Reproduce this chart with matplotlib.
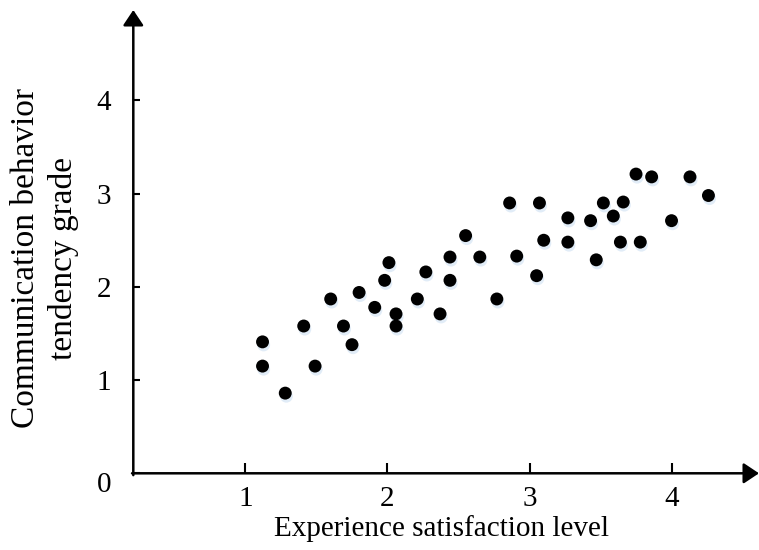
import matplotlib
matplotlib.use("Agg")
import matplotlib.pyplot as plt
import matplotlib.patheffects as pe
import matplotlib.transforms as mtransforms

plt.rcParams['font.family'] = ['Liberation Serif', 'DejaVu Serif']

# Data
satisfaction = [1.12, 1.12, 1.28, 1.41, 1.49, 1.60, 1.69, 1.75, 1.80, 1.91,
                1.98, 2.01, 2.06, 2.06, 2.21, 2.27, 2.37, 2.44, 2.44, 2.55,
                2.65, 2.77, 2.86, 2.91, 3.05, 3.07, 3.10, 3.27, 3.27, 3.43,
                3.47, 3.52, 3.59, 3.64, 3.66, 3.75, 3.78, 3.86, 4.00, 4.13,
                4.26]
tendency = [1.41, 1.15, 0.86, 1.58, 1.15, 1.87, 1.58, 1.38, 1.94, 1.78,
            2.07, 2.26, 1.71, 1.58, 1.87, 2.16, 1.71, 2.07, 2.32, 2.55,
            2.32, 1.87, 2.90, 2.33, 2.12, 2.90, 2.50, 2.74, 2.48, 2.71,
            2.29, 2.90, 2.76, 2.48, 2.91, 3.21, 2.48, 3.18, 2.71, 3.18,
            2.98]
x_ticks = [1, 2, 3, 4]
y_ticks = [0, 1, 2, 3, 4]
x_label = "Experience satisfaction level"
y_label = "Communication behavior\ntendency grade"

W, H = 759, 550
fig = plt.figure(figsize=(W / 100, H / 100), dpi=100)
left_px, right_px, bottom_px, top_px = 133.3, 759, 473.3, 10
ax = fig.add_axes([left_px / W, (H - bottom_px) / H,
                   (right_px - left_px) / W, (bottom_px - top_px) / H])
ax.set_xlim(0.21, 4.616)
ax.set_ylim(0, 4.97)

for s in ax.spines.values():
    s.set_visible(False)

ax.scatter(satisfaction, tendency, s=9.3 ** 2, c='black', zorder=3,
           linewidths=0,
           path_effects=[pe.SimplePatchShadow(offset=(0.8, -2.2),
                                              shadow_rgbFace='#b4d0ec',
                                              alpha=0.4),
                         pe.Normal()])

arrow = dict(arrowstyle='-|>,head_length=0.75,head_width=0.5',
             mutation_scale=12.5, color='black', lw=1.8,
             shrinkA=0, shrinkB=0)
ax.annotate('', xy=(1.0, 0), xytext=(-0.002, 0), xycoords='axes fraction',
            arrowprops=arrow, annotation_clip=False)
ax.annotate('', xy=(0, 1.0), xytext=(0, -0.004), xycoords='axes fraction',
            arrowprops=arrow, annotation_clip=False)

ax.set_xticks(x_ticks)
ax.set_xticklabels([str(v) for v in x_ticks])
ax.set_yticks(y_ticks)
ax.set_yticklabels([str(v) for v in y_ticks])
ax.tick_params(axis='x', direction='in', length=7, width=1.5, pad=9,
               labelsize=21)
ax.tick_params(axis='y', direction='in', length=5, width=1.5, pad=16,
               labelsize=21)
# the "0" label sits slightly below the origin in the reference
lab0 = ax.get_yticklabels()[0]
lab0.set_transform(lab0.get_transform() +
                   mtransforms.ScaledTranslation(0, -9 / 100, fig.dpi_scale_trans))

fig.text(441 / W, 1 - 529 / H, x_label, ha='center', va='center', fontsize=21)
fig.text(45 / W, 1 - 258 / H, y_label, ha='center', va='center', fontsize=24,
         rotation=90, linespacing=1.3, multialignment='center')

fig.savefig('out.png', dpi=100)
